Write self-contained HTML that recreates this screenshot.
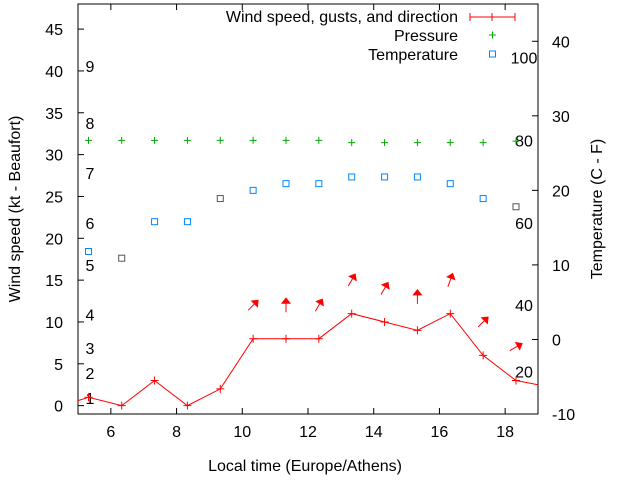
<!DOCTYPE html>
<html><head><meta charset="utf-8"><style>
body{margin:0;background:#fff}
svg{display:block;font-family:"Liberation Sans",sans-serif;font-size:16px}
</style></head><body>
<svg id="c" width="640" height="480">
<rect x="78" y="4" width="460" height="410" fill="none" stroke="#000"/>
<g id="g"></g>
</svg>
<script>
const times=[5.32,6.33,7.33,8.33,9.33,10.33,11.33,12.33,13.33,14.33,15.33,16.33,17.33,18.33];
const wind=[1,0,3,0,2,8,8,8,11,10,9,11,6,3];
const pressure=[26.7,26.7,26.7,26.7,26.7,26.7,26.7,26.7,26.4,26.4,26.4,26.4,26.4,26.6];
const temp=[11.8,10.9,15.8,15.8,18.9,20,20.9,20.9,21.8,21.8,21.8,20.9,18.9,17.8];
const tempGrey=[false,true,false,false,true,false,false,false,false,false,false,false,false,true];
const arrowTimes=[10.33,11.33,12.33,13.33,14.33,15.33,16.33,17.33,18.33];
const arrowBase=[12,12,12,15,14,13,15,10,7];
const arrowDir=[45,0,30,30,30,0,20,45,60];
const xTicks=[6,8,10,12,14,16,18];
const yTicks=[0,5,10,15,20,25,30,35,40,45];
const y2Ticks=[-10,0,10,20,30,40];
const beaufort=[[1,0.9],[2,3.9],[3,6.9],[4,10.9],[5,16.8],[6,21.8],[7,27.8],[8,33.8],[9,40.6]];
const fahr=[[20,-4.3],[40,4.6],[60,15.6],[80,26.7],[100,37.8]];
const L=78,R=538,T=4,B=414;
const X=v=>L+(v-5)/14*(R-L);
const Y=v=>B-(v+1)/49*(B-T);
const Y2=v=>B-(v+10)/55*(B-T);
const g=document.getElementById('g');
function el(t,a,txt){const e=document.createElementNS('http://www.w3.org/2000/svg',t);for(const k in a)e.setAttribute(k,a[k]);if(txt!==undefined)e.textContent=txt;g.appendChild(e);return e;}
xTicks.forEach(v=>{const x=X(v);
 let e=el('line',{x1:x,x2:x,y1:B,y2:B-6,stroke:'#000'});
 
 
 e=el('line',{x1:x,x2:x,y1:T,y2:T+6,stroke:'#000'});
 
 
 e=el('text',{x:x,y:B+23,'text-anchor':'middle',fill:'#000'},v);
 
 });
yTicks.forEach(v=>{const y=Y(v);
 let e=el('line',{x1:L,x2:L+6,y1:y,y2:y,stroke:'#000'});
 
 
 e=el('text',{x:L-15,y:y+6,'text-anchor':'end',fill:'#000'},v);
 
 });
y2Ticks.forEach(v=>{const y=Y2(v);
 let e=el('line',{x1:R,x2:R-6,y1:y,y2:y,stroke:'#000'});
 
 
 e=el('text',{x:R+14,y:y+6,fill:'#000'},v);
 
 });
beaufort.forEach(b=>{const e=el('text',{x:90,y:Y(b[1])+6,'text-anchor':'middle',fill:'#000'},b[0]);
 
 });
fahr.forEach(b=>{const e=el('text',{x:524,y:Y2(b[1])+6,'text-anchor':'middle',fill:'#000'},b[0]);
 
 });
let pts=[[5,wind[0]-0.4]].concat(times.map((t,i)=>[t,wind[i]])).concat([[19,2.5]]);
let e=el('polyline',{points:pts.map(p=>X(p[0])+','+Y(p[1])).join(' '),fill:'none',stroke:'#f00'});


times.forEach((t,i)=>{const x=X(t),y=Y(wind[i]);
 const p=el('path',{d:`M${x-4},${y}h8M${x},${y-4}v8`,stroke:'#f00'});
 
 });
arrowTimes.forEach((t,i)=>{const cx=X(t),cy=Y(arrowBase[i]);
 const a=el('g',{transform:`translate(${cx},${cy}) rotate(${arrowDir[i]})`});
 
 
 const l=document.createElementNS('http://www.w3.org/2000/svg','path');
 l.setAttribute('d','M0,7V-4M-4,-2L0,-7L4,-2Z');l.setAttribute('stroke','#f00');l.setAttribute('fill','#f00');
 a.appendChild(l);});
times.forEach((t,i)=>{const x=X(t),y=Y2(pressure[i]);
 const p=el('path',{d:`M${x-3.5},${y}h7M${x},${y-3.5}v7`,stroke:'#0a0'});
 
 });
times.forEach((t,i)=>{const x=X(t),y=Y2(temp[i]);
 const r=el('rect',{x:x-3,y:y-3,width:6,height:6,fill:'none',stroke:tempGrey[i]?'#555':'#08f'});
 
 });
</script>
<script>
const s=document.getElementById('c');
s.insertAdjacentHTML('beforeend',`
<g>
<text x="458" y="22" text-anchor="end">Wind speed, gusts, and direction</text>
<path d="M470,17h45M470,13v8M515,13v8M492,13v8" stroke="#f00"/>
<text x="458" y="41" text-anchor="end">Pressure</text>
<path d="M489,35h7M492.5,31.5v7" stroke="#0a0"/>
<text x="458" y="60" text-anchor="end">Temperature</text>
<rect x="489.5" y="51" width="6" height="6" fill="none" stroke="#08f"/>
</g>
<text x="305" y="471" text-anchor="middle">Local time (Europe/Athens)</text>
<text transform="translate(20,209) rotate(-90)" text-anchor="middle">Wind speed (kt - Beaufort)</text>
<text transform="translate(602,209) rotate(-90)" text-anchor="middle">Temperature (C - F)</text>`);
</script>
</body></html>
